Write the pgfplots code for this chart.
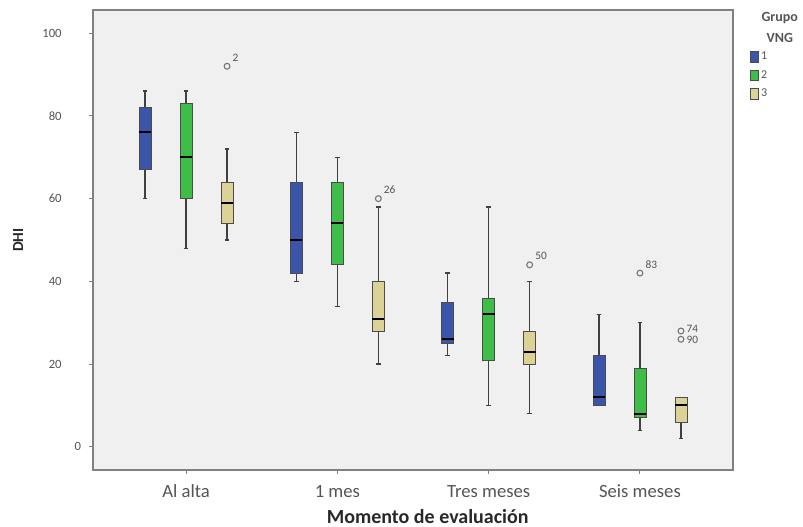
\documentclass[border=0pt]{standalone}
\usepackage{fontspec}
\setmainfont{Carlito}
\usepackage{pgfplots}
\pgfplotsset{compat=1.18}
\usepgfplotslibrary{statistics}
\definecolor{cblue}{RGB}{58,85,170}
\definecolor{cgreen}{RGB}{62,190,72}
\definecolor{ctan}{RGB}{220,210,150}
\definecolor{bg}{RGB}{240,240,240}
\definecolor{axgray}{RGB}{128,128,128}
\definecolor{txt}{RGB}{85,85,85}
\definecolor{lbl}{RGB}{40,40,40}
\pgfplotsset{
  boxplot/every median/.style={draw=black, line width=1.5pt},
  boxplot/every whisker/.style={draw=black!75, line width=1pt},
  boxplot/every box/.style={draw=black!70, line width=0.6pt},
}
\begin{document}
\begin{tikzpicture}
\begin{axis}[
  at={(0,0)}, anchor=south west,
  scale only axis, width=480pt, height=345pt,
  xmin=0.385, xmax=4.615, ymin=-5.6, ymax=105.6,
  axis background/.style={fill=bg},
  axis line style={draw=axgray, line width=1.1pt},
  tick style={draw=axgray, line width=0.8pt},
  tick align=outside, tick pos=left, major tick length=3pt,
  xtick={1,2,3,4}, xticklabels={Al alta, 1 mes, Tres meses, Seis meses},
  ytick={0,20,40,60,80,100},
  yticklabels={\makebox[0pt][l]{\hspace{9.75pt}0},20,40,60,80,100},
  xticklabel style={font=\fontsize{14}{16}\selectfont, text=txt, anchor=center, yshift=-13pt},
  yticklabel style={font=\fontsize{9.5}{11}\selectfont, text=txt, anchor=east, xshift=-17pt},
  xlabel={Momento de evaluación}, ylabel={DHI},
  every axis x label/.style={at={(axis description cs:0.523,-0.102)}, anchor=center, font=\bfseries\fontsize{15}{17}\selectfont, text=lbl},
  every axis y label/.style={at={(axis description cs:-0.117,0.5)}, rotate=90, anchor=center, font=\bfseries\fontsize{11.5}{13}\selectfont, text=lbl},
  clip=false,
  boxplot/draw direction=y,
  boxplot/box extend=0.08, boxplot/whisker extend=0.03,
  legend style={at={(rel axis cs:1.026,0.915)}, anchor=north west, draw=none, fill=none,
    font=\fontsize{9}{10}\selectfont, text=txt, inner sep=0pt, row sep=2.4pt,
    /tikz/every even column/.style={column sep=3pt}},
  legend cell align=left,
  legend image code/.code={\draw[#1] (0pt,-4pt) rectangle (6pt,4pt);},
]
\addlegendimage{fill=cblue, draw=black!70}
\addlegendentry{1}
\addlegendimage{fill=cgreen, draw=black!70}
\addlegendentry{2}
\addlegendimage{fill=ctan, draw=black!70}
\addlegendentry{3}

% Al alta
\addplot[fill=cblue, draw=black!70, boxplot prepared={draw direction=y, draw position=0.729, lower whisker=60, lower quartile=67, median=76, upper quartile=82, upper whisker=86, box extend=0.08, whisker extend=0.03}] coordinates {};
\addplot[fill=cgreen, draw=black!70, boxplot prepared={draw direction=y, draw position=1, lower whisker=48, lower quartile=60, median=70, upper quartile=83, upper whisker=86, box extend=0.08, whisker extend=0.03}] coordinates {};
\addplot[fill=ctan, draw=black!70, boxplot prepared={draw direction=y, draw position=1.271, lower whisker=50, lower quartile=54, median=59, upper quartile=64, upper whisker=72, box extend=0.08, whisker extend=0.03}] coordinates {};
% 1 mes
\addplot[fill=cblue, draw=black!70, boxplot prepared={draw direction=y, draw position=1.729, lower whisker=40, lower quartile=42, median=50, upper quartile=64, upper whisker=76, box extend=0.08, whisker extend=0.03}] coordinates {};
\addplot[fill=cgreen, draw=black!70, boxplot prepared={draw direction=y, draw position=2, lower whisker=34, lower quartile=44, median=54, upper quartile=64, upper whisker=70, box extend=0.08, whisker extend=0.03}] coordinates {};
\addplot[fill=ctan, draw=black!70, boxplot prepared={draw direction=y, draw position=2.271, lower whisker=20, lower quartile=28, median=31, upper quartile=40, upper whisker=58, box extend=0.08, whisker extend=0.03}] coordinates {};
% Tres meses
\addplot[fill=cblue, draw=black!70, boxplot prepared={draw direction=y, draw position=2.729, lower whisker=22, lower quartile=25, median=26, upper quartile=35, upper whisker=42, box extend=0.08, whisker extend=0.03}] coordinates {};
\addplot[fill=cgreen, draw=black!70, boxplot prepared={draw direction=y, draw position=3, lower whisker=10, lower quartile=21, median=32, upper quartile=36, upper whisker=58, box extend=0.08, whisker extend=0.03}] coordinates {};
\addplot[fill=ctan, draw=black!70, boxplot prepared={draw direction=y, draw position=3.271, lower whisker=8, lower quartile=20, median=23, upper quartile=28, upper whisker=40, box extend=0.08, whisker extend=0.03}] coordinates {};
% Seis meses
\addplot[fill=cblue, draw=black!70, boxplot prepared={draw direction=y, draw position=3.729, lower whisker=10, lower quartile=10, median=12, upper quartile=22, upper whisker=32, box extend=0.08, whisker extend=0.03}] coordinates {};
\addplot[fill=cgreen, draw=black!70, boxplot prepared={draw direction=y, draw position=4, lower whisker=4, lower quartile=7, median=8, upper quartile=19, upper whisker=30, box extend=0.08, whisker extend=0.03}] coordinates {};
\addplot[fill=ctan, draw=black!70, boxplot prepared={draw direction=y, draw position=4.271, lower whisker=2, lower quartile=6, median=10, upper quartile=12, upper whisker=12, box extend=0.08, whisker extend=0.03}] coordinates {};

% outliers
\addplot[only marks, mark=o, mark size=2.2pt, mark options={line width=0.8pt, draw=black!55},
  nodes near coords, point meta=explicit symbolic,
  every node near coord/.append style={anchor=west, font=\fontsize{8.5}{10}\selectfont, text=txt, xshift=0.5pt, yshift=6.5pt}]
  table[meta=l] {
x y l
1.271 92 2
2.271 60 26
3.271 44 50
4 42 83
};
\addplot[only marks, mark=o, mark size=2.2pt, mark options={line width=0.8pt, draw=black!55},
  nodes near coords, point meta=explicit symbolic,
  every node near coord/.append style={anchor=west, font=\fontsize{8.5}{10}\selectfont, text=txt, xshift=0.5pt, yshift=1.5pt}]
  table[meta=l] {
x y l
4.271 28 74
};
\addplot[only marks, mark=o, mark size=2.2pt, mark options={line width=0.8pt, draw=black!55},
  nodes near coords, point meta=explicit symbolic,
  every node near coord/.append style={anchor=west, font=\fontsize{8.5}{10}\selectfont, text=txt, xshift=0.5pt, yshift=-0.5pt}]
  table[meta=l] {
x y l
4.271 26 90
};

\node[font=\bfseries\fontsize{10.5}{12}\selectfont, text=txt] at (rel axis cs:1.073,0.983) {Grupo};
\node[font=\bfseries\fontsize{10.5}{12}\selectfont, text=txt] at (rel axis cs:1.073,0.940) {VNG};
\end{axis}
\pgfresetboundingbox
\path (-69.75pt,-42.75pt) rectangle (532.5pt,352.5pt);
\end{tikzpicture}
\end{document}
